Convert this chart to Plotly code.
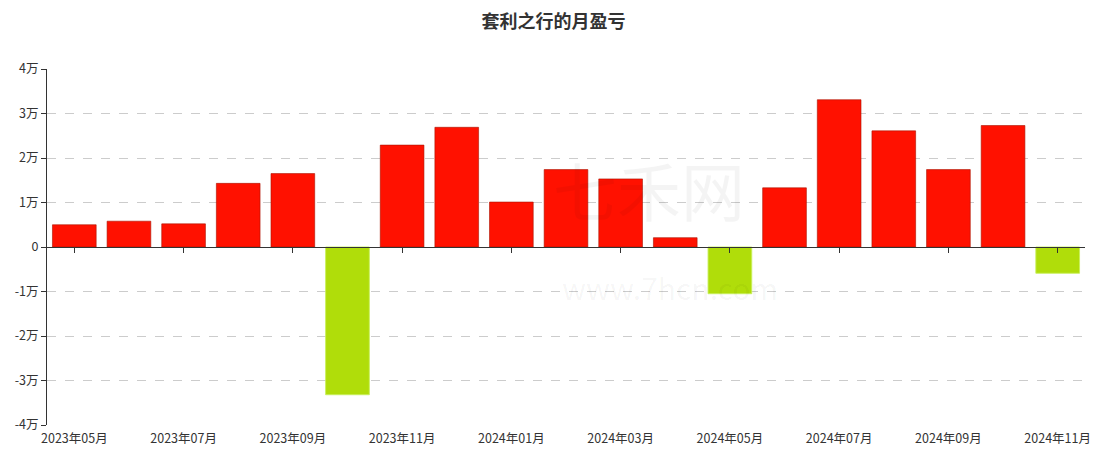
import plotly.graph_objects as go

months = ["2023年05月", "2023年06月", "2023年07月", "2023年08月", "2023年09月", "2023年10月",
          "2023年11月", "2023年12月", "2024年01月", "2024年02月", "2024年03月", "2024年04月",
          "2024年05月", "2024年06月", "2024年07月", "2024年08月", "2024年09月", "2024年10月",
          "2024年11月"]
pnl = [5000, 5800, 5200, 14300, 16500, -33200, 22900, 26900, 10100, 17400, 15300, 2100,
       -10500, 13300, 33100, 26100, 17400, 27300, -5900]
y_tickvals = [40000, 30000, 20000, 10000, 0, -10000, -20000, -30000, -40000]
y_ticktext = ["4万", "3万", "2万", "1万", "0", "-1万", "-2万", "-3万", "-4万"]
x_label_months = months[::2]

RED = "#FF1100"
GREEN = "#B0DD0A"
colors = [RED if v >= 0 else GREEN for v in pnl]
edges = ["rgba(170,20,0,0.6)" if v >= 0 else "rgba(200,240,90,0.9)" for v in pnl]

FONT = "Noto Sans CJK SC, Microsoft YaHei, sans-serif"
x_range = [-0.5, len(months) - 0.5]

fig = go.Figure()
fig.add_trace(go.Bar(
    x=months, y=pnl, marker=dict(color=colors, line=dict(color=edges, width=1)),
    width=0.8, hovertemplate="%{x}: %{y}<extra></extra>", showlegend=False,
))
# invisible trace for the zero-line axis with tick marks
fig.add_trace(go.Scatter(x=months, y=[None] * len(months), xaxis="x2", yaxis="y",
                         mode="lines", showlegend=False, hoverinfo="skip"))

# watermark (faint)
fig.add_annotation(text="七禾网", x=0.58, y=0.8, xref="paper", yref="paper",
                   showarrow=False, font=dict(family=FONT, size=64, color="rgba(0,0,0,0.045)"))
fig.add_annotation(text="www.7hcn.com", x=0.6, y=0.32, xref="paper", yref="paper",
                   showarrow=False, font=dict(family=FONT, size=30, color="rgba(0,0,0,0.045)"))

fig.update_layout(
    width=1107, height=462,
    margin=dict(l=47, r=22, t=69, b=37, autoexpand=False),
    paper_bgcolor="white", plot_bgcolor="white",
    font=dict(family=FONT, size=12, color="#333"),
    title=dict(text="<b>套利之行的月盈亏</b>", x=0.5, xanchor="center", xref="container",
               y=0.953, yanchor="middle", yref="container",
               font=dict(family=FONT, size=18, color="#333")),
    bargap=0.2,
    xaxis=dict(type="category", categoryorder="array", categoryarray=months, range=x_range,
               tickmode="array", tickvals=x_label_months, ticktext=x_label_months,
               showline=False, showgrid=False, ticks="", zeroline=False, automargin=False,
               ticklabelstandoff=4,
               tickfont=dict(family=FONT, size=12.5, color="#333")),
    xaxis2=dict(type="category", categoryorder="array", categoryarray=months, range=x_range,
                overlaying="x", matches="x", anchor="free", position=0.5, automargin=False,
                tickmode="array", tickvals=x_label_months, showticklabels=False,
                ticks="outside", ticklen=5, tickcolor="#333", tickwidth=1,
                showline=True, linecolor="#333", linewidth=1, showgrid=False, zeroline=False),
    yaxis=dict(range=[-40000, 40000], tickmode="array", tickvals=y_tickvals, ticktext=y_ticktext,
               showgrid=True, gridcolor="#cccccc", griddash="dash", gridwidth=1,
               zeroline=False, showline=True, linecolor="#333", linewidth=1, automargin=False,
               ticks="outside", ticklen=5, tickcolor="#333",
               tickfont=dict(family=FONT, size=12.5, color="#333")),
)

fig.write_html("out.html", config={"displayModeBar": False},
               post_script="document.body.style.margin='0';")
